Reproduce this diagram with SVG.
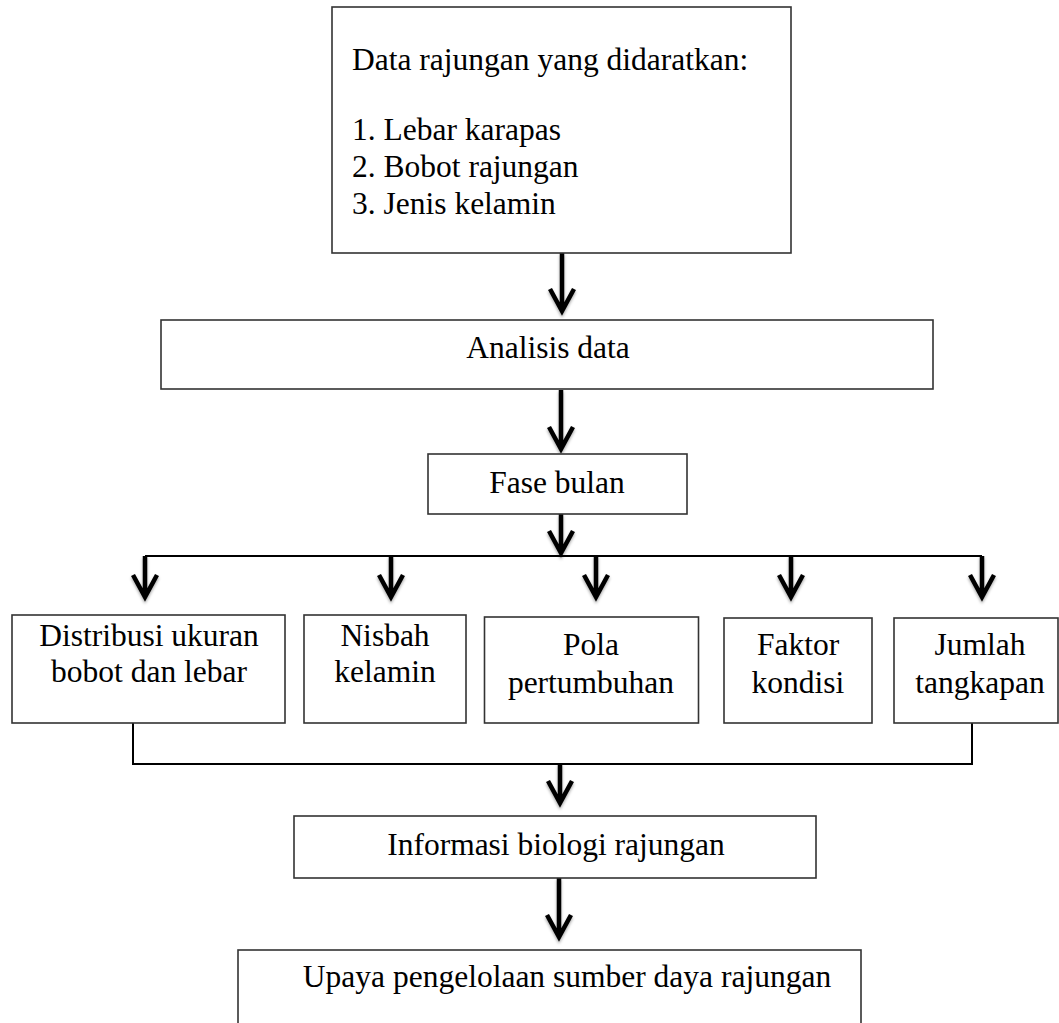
<svg xmlns="http://www.w3.org/2000/svg" width="1059" height="1023" viewBox="0 0 1059 1023">
<style>
.box{fill:#fff;stroke:#333;stroke-width:1.6}
.t{font-family:"Liberation Serif","Times New Roman",serif;font-size:31.5px;fill:#000}
.c{text-anchor:middle}
.line{fill:none;stroke:#000;stroke-width:2}
.arr{fill:none;stroke:#000;stroke-width:4.5;stroke-linejoin:miter;stroke-linecap:butt}
</style>
<defs>
<filter id="sh" x="-50%" y="-20%" width="200%" height="150%">
<feDropShadow dx="0" dy="2" stdDeviation="1.5" flood-color="#000" flood-opacity="0.35"/>
</filter>
</defs>
<rect width="1059" height="1023" fill="#fff"/>

<g id="connectors">
<path class="line" d="M145 556 H982"/>
<path class="line" d="M133 723 V764 H972 V723"/>
<g filter="url(#sh)">
<path class="arr" d="M562 253 V311 M550 289 L562 311 L574 289"/>
<path class="arr" d="M561 390 V449 M549 427 L561 449 L573 427"/>
<path class="arr" d="M561 514 V553 M549 531 L561 553 L573 531"/>
<path class="arr" d="M145 556 V597 M133 575 L145 597 L157 575"/>
<path class="arr" d="M391 556 V597 M379 575 L391 597 L403 575"/>
<path class="arr" d="M596 556 V597 M584 575 L596 597 L608 575"/>
<path class="arr" d="M791 556 V597 M779 575 L791 597 L803 575"/>
<path class="arr" d="M982 556 V597 M970 575 L982 597 L994 575"/>
<path class="arr" d="M560 764 V803 M548 781 L560 803 L572 781"/>
<path class="arr" d="M559 878 V937 M547 915 L559 937 L571 915"/>
</g>
</g>

<g id="data">
<rect class="box" x="332" y="7" width="459" height="246"/>
<text class="t" x="352" y="70">Data rajungan yang didaratkan:</text>
<text class="t" x="352" y="140">1. Lebar karapas</text>
<text class="t" x="352" y="177">2. Bobot rajungan</text>
<text class="t" x="352" y="214">3. Jenis kelamin</text>
</g>

<g id="analisis">
<rect class="box" x="161" y="320" width="772" height="69"/>
<text class="t c" x="548" y="358">Analisis data</text>
</g>

<g id="fase">
<rect class="box" x="428" y="454" width="259" height="60"/>
<text class="t c" x="557" y="493">Fase bulan</text>
</g>

<g id="distribusi">
<rect class="box" x="12" y="615" width="273" height="108"/>
<text class="t c" x="149" y="646">Distribusi ukuran</text>
<text class="t c" x="149" y="682">bobot dan lebar</text>
</g>

<g id="nisbah">
<rect class="box" x="304" y="615" width="162" height="108"/>
<text class="t c" x="385" y="646">Nisbah</text>
<text class="t c" x="385" y="682">kelamin</text>
</g>

<g id="pola">
<rect class="box" x="484.5" y="617" width="214" height="106"/>
<text class="t c" x="591" y="655">Pola</text>
<text class="t c" x="591" y="693">pertumbuhan</text>
</g>

<g id="faktor">
<rect class="box" x="724" y="618" width="148" height="105"/>
<text class="t c" x="798" y="655">Faktor</text>
<text class="t c" x="798" y="693">kondisi</text>
</g>

<g id="jumlah">
<rect class="box" x="894" y="618" width="164" height="105"/>
<text class="t c" x="980" y="655">Jumlah</text>
<text class="t c" x="980" y="693">tangkapan</text>
</g>

<g id="informasi">
<rect class="box" x="294" y="816" width="522" height="62"/>
<text class="t c" x="556" y="855">Informasi biologi rajungan</text>
</g>

<g id="upaya">
<rect class="box" x="238" y="950" width="623" height="100"/>
<text class="t c" x="567" y="987">Upaya pengelolaan sumber daya rajungan</text>
</g>
</svg>
